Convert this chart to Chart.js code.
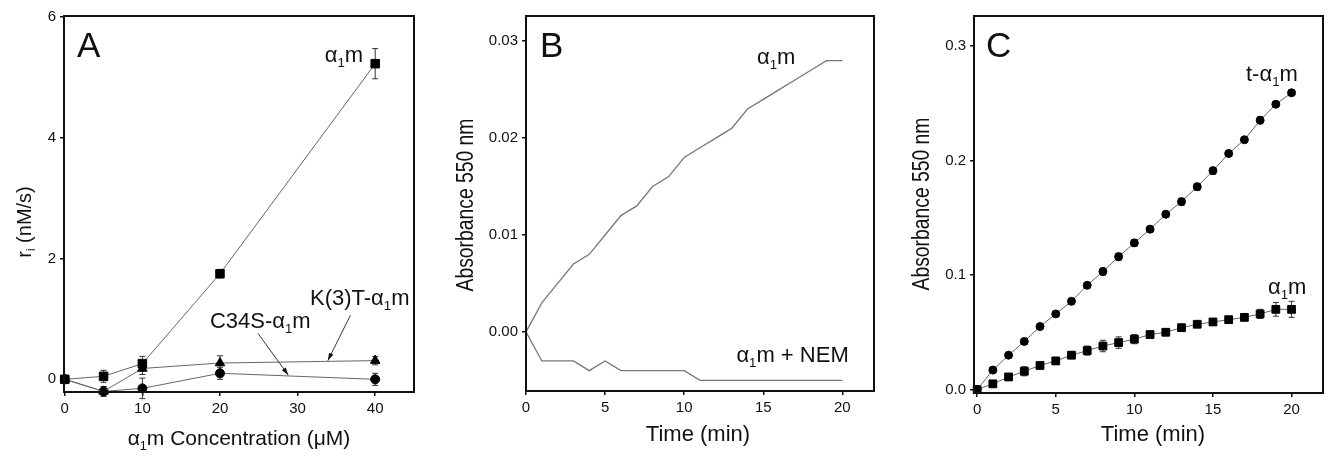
<!DOCTYPE html>
<html>
<head>
<meta charset="utf-8">
<script src="https://cdn.jsdelivr.net/npm/chart.js@4/dist/chart.umd.min.js"></script>
<style>
  body { margin: 0; background: #fff; }
  #wrap { position: relative; width: 1336px; height: 459px; }
  canvas { position: absolute; top: 0; }
</style>
</head>
<body>
<div id="wrap">
  <canvas id="chart-a" width="445" height="459" style="left:0"></canvas>
  <canvas id="chart-b" width="445" height="459" style="left:445px"></canvas>
  <canvas id="chart-c" width="446" height="459" style="left:890px"></canvas>
</div>
<script>
// Panel A: initial rate vs concentration
const concA = [0, 5, 10, 20, 40];
const rateA1m = [0, 0.05, 0.26, 1.75, 5.23];
const errA1m = [0, 0.1, 0.12, 0.07, 0.25];
const rateK3T = [0, -0.2, 0.18, 0.27, 0.31];
const errK3T = [0, 0.08, 0.1, 0.12, 0.07];
const rateC34S = [0, -0.2, -0.15, 0.1, 0];
const errC34S = [0, 0.08, 0.17, 0.1, 0.1];
const xTicksA = [0, 10, 20, 30, 40];
const yTicksA = [0, 2, 4, 6];

// Panel B: absorbance traces
const timeB = [0, 1, 2, 3, 4, 5, 6, 7, 8, 9, 10, 11, 12, 13, 14, 15, 16, 17, 18, 19, 20];
const absA1mB = [0, 0.003, 0.005, 0.007, 0.008, 0.010, 0.012, 0.013, 0.015, 0.016, 0.018,
                 0.019, 0.020, 0.021, 0.023, 0.024, 0.025, 0.026, 0.027, 0.028, 0.028];
const absNemB = [0, -0.003, -0.003, -0.003, -0.004, -0.003, -0.004, -0.004, -0.004, -0.004, -0.004,
                 -0.005, -0.005, -0.005, -0.005, -0.005, -0.005, -0.005, -0.005, -0.005, -0.005];
const xTicksB = [0, 5, 10, 15, 20];
const yTicksB = [0, 0.01, 0.02, 0.03];

// Panel C: absorbance with points
const timeC = [0, 1, 2, 3, 4, 5, 6, 7, 8, 9, 10, 11, 12, 13, 14, 15, 16, 17, 18, 19, 20];
const absTC = [0, 0.017, 0.030, 0.042, 0.055, 0.066, 0.077, 0.091, 0.103, 0.116, 0.128,
               0.140, 0.153, 0.164, 0.177, 0.191, 0.206, 0.218, 0.235, 0.249, 0.259];
const errTC = [0, 0.002, 0.002, 0.002, 0.002, 0.002, 0.002, 0.002, 0.003, 0.003, 0.003,
               0.002, 0.002, 0.003, 0.003, 0.003, 0.002, 0.002, 0.003, 0.002, 0.002];
const absA1mC = [0, 0.005, 0.011, 0.016, 0.021, 0.025, 0.030, 0.034, 0.038, 0.041, 0.044,
                 0.048, 0.050, 0.054, 0.057, 0.059, 0.061, 0.063, 0.066, 0.070, 0.070];
const errA1mC = [0, 0.002, 0.003, 0.004, 0.002, 0.003, 0.003, 0.004, 0.005, 0.005, 0.004,
                 0.002, 0.002, 0.002, 0.002, 0.002, 0.002, 0.003, 0.004, 0.006, 0.007];
const xTicksC = [0, 5, 10, 15, 20];
const yTicksC = [0, 0.1, 0.2, 0.3];

const FONT = '"Liberation Sans", Arial, sans-serif';
const INK = '#111';
const LINE = '#666';

const pts = (xs, ys) => xs.map((x, i) => ({ x: x, y: ys[i] }));

// frame around the plot area (top and right sides too)
const framePlugin = {
    id: 'frame',
    afterDraw(chart) {
        const { ctx, chartArea: a } = chart;
        ctx.save();
        ctx.strokeStyle = INK;
        ctx.lineWidth = 2;
        ctx.strokeRect(a.left, a.top, a.right - a.left, a.bottom - a.top);
        ctx.restore();
    }
};

// vertical error bars from dataset.errors
const errorBarPlugin = {
    id: 'errorBars',
    beforeDatasetsDraw(chart) {
        const ctx = chart.ctx;
        const ys = chart.scales.y;
        ctx.save();
        ctx.strokeStyle = '#333';
        ctx.lineWidth = 1;
        chart.data.datasets.forEach((ds, i) => {
            if (!ds.errors) return;
            chart.getDatasetMeta(i).data.forEach((pt, j) => {
                const e = ds.errors[j];
                if (!e) return;
                const v = ds.data[j].y;
                const top = ys.getPixelForValue(v + e);
                const bot = ys.getPixelForValue(v - e);
                ctx.beginPath();
                ctx.moveTo(pt.x, top); ctx.lineTo(pt.x, bot);
                ctx.moveTo(pt.x - 3, top); ctx.lineTo(pt.x + 3, top);
                ctx.moveTo(pt.x - 3, bot); ctx.lineTo(pt.x + 3, bot);
                ctx.stroke();
            });
        });
        ctx.restore();
    }
};

// text with subscripts: segs = [[text, isSub], ...]
function richWidth(ctx, segs, size) {
    let w = 0;
    segs.forEach(([t, sub]) => {
        ctx.font = (sub ? size * 0.6 : size) + 'px ' + FONT;
        w += ctx.measureText(t).width;
    });
    return w;
}
function drawRich(ctx, segs, x, y, size) {
    segs.forEach(([t, sub]) => {
        ctx.font = (sub ? size * 0.6 : size) + 'px ' + FONT;
        ctx.fillText(t, x, sub ? y + size * 0.22 : y);
        x += ctx.measureText(t).width;
    });
}

// labels, axis titles and arrows
const notesPlugin = {
    id: 'notes',
    afterDraw(chart, args, opts) {
        const ctx = chart.ctx;
        const sx = chart.scales.x, sy = chart.scales.y;
        ctx.save();
        ctx.fillStyle = INK;
        ctx.strokeStyle = '#333';
        ctx.textBaseline = 'alphabetic';
        ctx.textAlign = 'left';
        (opts.arrows || []).forEach(a => {
            const x1 = sx.getPixelForValue(a.from[0]), y1 = sy.getPixelForValue(a.from[1]);
            const x2 = sx.getPixelForValue(a.to[0]), y2 = sy.getPixelForValue(a.to[1]);
            ctx.lineWidth = 1;
            ctx.beginPath(); ctx.moveTo(x1, y1); ctx.lineTo(x2, y2); ctx.stroke();
            const ang = Math.atan2(y2 - y1, x2 - x1);
            ctx.beginPath();
            ctx.moveTo(x2, y2);
            ctx.lineTo(x2 - 8 * Math.cos(ang - 0.3), y2 - 8 * Math.sin(ang - 0.3));
            ctx.lineTo(x2 - 8 * Math.cos(ang + 0.3), y2 - 8 * Math.sin(ang + 0.3));
            ctx.closePath(); ctx.fill();
        });
        (opts.items || []).forEach(it => {
            let x = it.data ? sx.getPixelForValue(it.x) : it.x;
            let y = it.data ? sy.getPixelForValue(it.y) : it.y;
            const w = richWidth(ctx, it.text, it.size);
            const sq = it.squeeze || 1;
            ctx.save();
            ctx.translate(x, y);
            if (it.rotate) ctx.rotate(-Math.PI / 2);
            ctx.scale(sq, 1);
            const start = it.align === 'center' ? -w / 2 : 0;
            drawRich(ctx, it.text, start, 0, it.size);
            ctx.restore();
        });
        ctx.restore();
    }
};

function axis(min, max, ticks, fixedSize, horizontal, fmt) {
    return {
        type: 'linear',
        min: min,
        max: max,
        afterBuildTicks: s => { s.ticks = ticks.map(v => ({ value: v })); },
        afterFit: s => { if (horizontal) s.height = fixedSize; else s.width = fixedSize; },
        border: { display: false },
        grid: { drawOnChartArea: false, drawTicks: true, tickLength: 4, color: INK, lineWidth: 1.5 },
        ticks: {
            color: INK,
            padding: 4,
            maxRotation: 0,
            autoSkip: false,
            font: { family: FONT, size: 15 },
            callback: fmt
        }
    };
}

function baseOptions(pad, xScale, yScale, notes) {
    return {
        responsive: false,
        devicePixelRatio: 1,
        animation: false,
        layout: { padding: pad },
        plugins: { legend: { display: false }, tooltip: { enabled: false }, notes: notes },
        scales: { x: xScale, y: yScale }
    };
}

const sub1 = (pre, post) => [[pre], ['1', true], [post]];

document.addEventListener('DOMContentLoaded', () => {
    Chart.defaults.font.family = FONT;

    // Panel A
    new Chart(document.getElementById('chart-a'), {
        type: 'scatter',
        data: {
            datasets: [
                {
                    label: 'α1m', data: pts(concA, rateA1m), errors: errA1m,
                    showLine: true, borderColor: LINE, borderWidth: 1, tension: 0,
                    pointStyle: 'rect', pointRadius: 6, backgroundColor: '#000', pointBorderColor: '#000', clip: false
                },
                {
                    label: 'K(3)T-α1m', data: pts(concA, rateK3T), errors: errK3T,
                    showLine: true, borderColor: LINE, borderWidth: 1, tension: 0,
                    pointStyle: 'triangle', pointRadius: 5.5, backgroundColor: '#000', pointBorderColor: '#000', clip: false
                },
                {
                    label: 'C34S-α1m', data: pts(concA, rateC34S), errors: errC34S,
                    showLine: true, borderColor: LINE, borderWidth: 1, tension: 0,
                    pointStyle: 'circle', pointRadius: 4.5, backgroundColor: '#000', pointBorderColor: '#000', clip: false
                }
            ]
        },
        options: baseOptions(
            { left: 0, top: 16, right: 31, bottom: 0 },
            axis(-0.1, 45, xTicksA, 67, true, v => String(v)),
            axis(-0.21, 6.02, yTicksA, 64, false, v => String(v)),
            {
                items: [
                    { text: [['A']], x: 77, y: 57, size: 35 },
                    { text: sub1('α', 'm'), x: 33.5, y: 5.26, size: 22, data: true },
                    { text: sub1('K(3)T-α', 'm'), x: 31.6, y: 1.23, size: 22, data: true },
                    { text: sub1('C34S-α', 'm'), x: 18.7, y: 0.85, size: 22, data: true },
                    { text: sub1('α', 'm Concentration (μM)'), x: 239, y: 445, size: 21, align: 'center' },
                    { text: [['r'], ['i', true], [' (nM/s)']], x: 31, y: 222, size: 20, align: 'center', rotate: true }
                ],
                arrows: [
                    { from: [36.8, 1.06], to: [33.9, 0.31] },
                    { from: [24.9, 0.76], to: [28.8, 0.07] }
                ]
            }
        ),
        plugins: [errorBarPlugin, framePlugin, notesPlugin]
    });

    // Panel B
    new Chart(document.getElementById('chart-b'), {
        type: 'scatter',
        data: {
            datasets: [
                {
                    label: 'α1m', data: pts(timeB, absA1mB),
                    showLine: true, borderColor: '#777', borderWidth: 1.3, tension: 0, pointRadius: 0
                },
                {
                    label: 'α1m + NEM', data: pts(timeB, absNemB),
                    showLine: true, borderColor: '#777', borderWidth: 1.3, tension: 0, pointRadius: 0
                }
            ]
        },
        options: baseOptions(
            { left: 0, top: 16, right: 16, bottom: 0 },
            axis(0, 22, xTicksB, 68, true, v => String(v)),
            axis(-0.0061, 0.0326, yTicksB, 81, false, v => v.toFixed(2)),
            {
                items: [
                    { text: [['B']], x: 95, y: 57, size: 35 },
                    { text: sub1('α', 'm'), x: 14.6, y: 0.0276, size: 22, data: true },
                    { text: sub1('α', 'm + NEM'), x: 13.3, y: -0.0031, size: 22, data: true },
                    { text: [['Time (min)']], x: 253, y: 441, size: 22, align: 'center' },
                    { text: [['Absorbance 550 nm']], x: 28, y: 205, size: 23, align: 'center', rotate: true, squeeze: 0.84 }
                ]
            }
        ),
        plugins: [framePlugin, notesPlugin]
    });

    // Panel C
    new Chart(document.getElementById('chart-c'), {
        type: 'scatter',
        data: {
            datasets: [
                {
                    label: 't-α1m', data: pts(timeC, absTC), errors: errTC,
                    showLine: true, borderColor: LINE, borderWidth: 1, tension: 0,
                    pointStyle: 'circle', pointRadius: 4, backgroundColor: '#000', pointBorderColor: '#000', clip: false
                },
                {
                    label: 'α1m', data: pts(timeC, absA1mC), errors: errA1mC,
                    showLine: true, borderColor: LINE, borderWidth: 1, tension: 0,
                    pointStyle: 'rect', pointRadius: 5.5, backgroundColor: '#000', pointBorderColor: '#000', clip: false
                }
            ]
        },
        options: baseOptions(
            { left: 0, top: 16, right: 13, bottom: 0 },
            axis(-0.2, 22, xTicksC, 66, true, v => String(v)),
            axis(-0.003, 0.326, yTicksC, 84, false, v => v.toFixed(1)),
            {
                items: [
                    { text: [['C']], x: 96, y: 57, size: 35 },
                    { text: sub1('t-α', 'm'), x: 17.1, y: 0.269, size: 22, data: true },
                    { text: sub1('α', 'm'), x: 18.5, y: 0.083, size: 22, data: true },
                    { text: [['Time (min)']], x: 263, y: 441, size: 22, align: 'center' },
                    { text: [['Absorbance 550 nm']], x: 39, y: 204, size: 23, align: 'center', rotate: true, squeeze: 0.84 }
                ]
            }
        ),
        plugins: [errorBarPlugin, framePlugin, notesPlugin]
    });
});
</script>
</body>
</html>
